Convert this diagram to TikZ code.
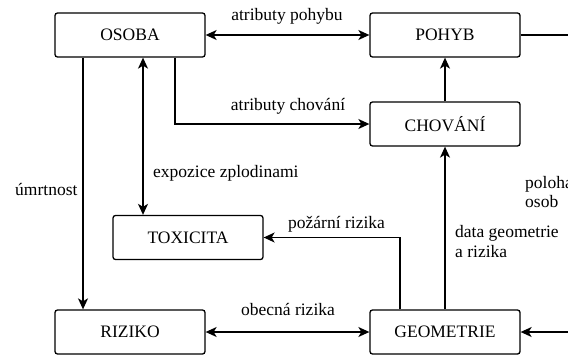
\documentclass[tikz,border=0pt]{standalone}
\usepackage{fontspec}
\setmainfont{Liberation Serif}
\usetikzlibrary{arrows.meta}
\begin{document}
\begin{tikzpicture}[x=1pt,y=-1pt,
  box/.style={draw, line width=1.3pt, rounded corners=2.5pt, minimum width=150pt, minimum height=44pt, inner sep=0pt, font=\fontsize{17.5}{20}\selectfont},
  lab/.style={font=\fontsize{17.5}{20}\selectfont, inner sep=0pt, align=left},
  line/.style={line width=1.3pt},
  conn/.style={line, -{Stealth[length=11pt,width=10pt,inset=3pt]}},
  dconn/.style={line, {Stealth[length=11pt,width=10pt,inset=3pt]}-{Stealth[length=11pt,width=10pt,inset=3pt]}}]
\useasboundingbox (0,0) rectangle (568,356);
\node[box] (osoba) at (130,35) {OSOBA};
\node[box] (pohyb) at (445,35) {POHYB};
\node[box] (chovani) at (445,124) {CHOVÁNÍ};
\node[box] (toxicita) at (188,237.5) {TOXICITA};
\node[box] (riziko) at (130,332) {RIZIKO};
\node[box] (geometrie) at (445,332) {GEOMETRIE};
\coordinate (rp) at (568,35);
\coordinate (rg) at (568,332);

\draw[dconn] (osoba.east) -- (pohyb.west);
\draw[conn] ([xshift=45pt]osoba.south) |- (chovani.west);
\draw[dconn] ([xshift=13pt]osoba.south) -- ([xshift=-45pt]toxicita.north);
\draw[conn] ([xshift=-47pt]osoba.south) -- ([xshift=-47pt]riziko.north);
\draw[conn] (chovani.north) -- (pohyb.south);
\draw[conn] (geometrie.north) -- (chovani.south);
\draw[conn] ([xshift=-45pt]geometrie.north) |- (toxicita.east);
\draw[dconn] (riziko.east) -- (geometrie.west);
\draw[line] (pohyb.east) -- (rp);
\draw[conn] (rg) -- (geometrie.east);

\node[lab, anchor=base] (l1) at (287,20) {atributy pohybu};
\node[lab, anchor=base] (l2) at (288,110) {atributy chování};
\node[lab, anchor=base west] (l3) at (153,177) {expozice zplodinami};
\node[lab, anchor=base west] (l4) at (15,195) {úmrtnost};
\node[lab, anchor=base west] (l5) at (288,228) {požární rizika};
\node[lab, anchor=base west] (l6) at (455,237) {data geometrie};
\node[lab, anchor=base west] (l7) at (455,257) {a rizika};
\node[lab, anchor=base west] (l8) at (525,188) {poloha};
\node[lab, anchor=base west] (l9) at (525,207) {osob};
\node[lab, anchor=base] (l10) at (288,315) {obecná rizika};
\end{tikzpicture}
\end{document}
